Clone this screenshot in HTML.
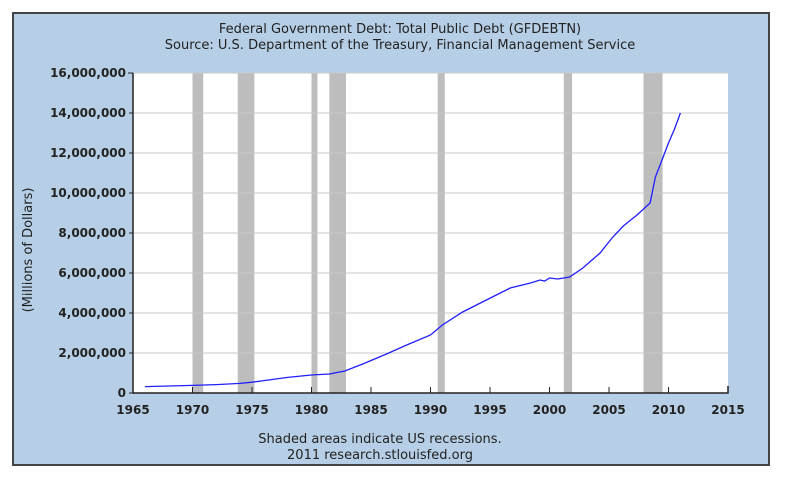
<!DOCTYPE html>
<html><head><meta charset="utf-8"><style>
body{margin:0;background:#fff;width:800px;height:489px;overflow:hidden}
svg text{font-family:"DejaVu Sans","Liberation Sans",sans-serif;fill:#222}
</style></head><body>
<svg id="c" width="800" height="489">
<rect x="13" y="13" width="756" height="452" fill="#b7cfe6" stroke="#444" stroke-width="2"/>
<text x="400" y="33" font-size="13" text-anchor="middle">Federal Government Debt: Total Public Debt (GFDEBTN)</text>
<text x="400" y="49" font-size="13" text-anchor="middle">Source: U.S. Department of the Treasury, Financial Management Service</text>
<rect x="133" y="73" width="595" height="320" fill="#fff"/>
<g id="rec"></g><g id="grid"></g><g id="ax"></g>
<path id="line" fill="none" stroke="#1f1fff" stroke-width="1.3"/>
<text transform="translate(32,250) rotate(-90)" font-size="13" text-anchor="middle">(Millions of Dollars)</text>
<text x="380" y="443" font-size="13" text-anchor="middle">Shaded areas indicate US recessions.</text>
<text x="380" y="459" font-size="13" text-anchor="middle">2011 research.stlouisfed.org</text>
</svg>
<script>
const years=[1966,1968,1970,1972,1974,1975,1976,1978,1980,1981.5,1982.8,1984.3,1986.3,1988,1990,1991,1992.7,1994.7,1996.7,1998.4,1999.2,1999.6,2000,2000.7,2001.7,2002.8,2004.25,2005.25,2006.2,2007.35,2008.45,2008.9,2009.45,2010,2010.5,2011];
const debt=[320000,350000,380000,420000,480000,540000,620000,780000,900000,950000,1100000,1450000,1950000,2400000,2900000,3400000,4050000,4650000,5250000,5500000,5650000,5600000,5750000,5700000,5800000,6250000,7000000,7750000,8350000,8900000,9500000,10800000,11650000,12500000,13200000,14000000];
const recStart=[1970.0,1973.8,1980.0,1981.5,1990.6,2001.2,2007.9];
const recEnd=[1970.9,1975.2,1980.5,1982.9,1991.2,2001.9,2009.5];
const yTicks=[0,2000000,4000000,6000000,8000000,10000000,12000000,14000000,16000000];
const xTicks=[1965,1970,1975,1980,1985,1990,1995,2000,2005,2010,2015];
const X=v=>133+(v-1965)*595/50, Y=v=>393-v*320/16000000;
const NS="http://www.w3.org/2000/svg";
function mk(p,t,a){const e=document.createElementNS(NS,t);for(const k in a)e.setAttribute(k,a[k]);document.getElementById(p).appendChild(e);return e;}
recStart.forEach((s,i)=>{const e=mk('rec','rect',{x:X(s),y:73,width:X(recEnd[i])-X(s),height:320,fill:'#bdbdbd'});

});
yTicks.forEach(v=>{const y=Y(v);
if(v>0){const g=mk('grid','line',{x1:133,x2:728,y1:y,y2:y,stroke:'#c8c8c8'});

}
mk('ax','line',{x1:129,x2:133,y1:y,y2:y,stroke:'#222'});
const t=mk('ax','text',{x:126,y:y+4,'font-size':12,'font-weight':'bold','text-anchor':'end'});t.textContent=v.toLocaleString('en-US');

});
xTicks.forEach(v=>{const x=X(v);mk('ax','line',{x1:x,x2:x,y1:387,y2:393,stroke:'#222'});
const t=mk('ax','text',{x:x,y:414,'font-size':12,'font-weight':'bold','text-anchor':'middle'});t.textContent=v;

});
mk('ax','path',{d:'M133 73V393H728V386',fill:'none',stroke:'#222','stroke-width':1.5});
mk('ax','line',{x1:128,x2:133,y1:73,y2:73,stroke:'#222'});
document.getElementById('line').setAttribute('d',years.map((y,i)=>(i?'L':'M')+X(y).toFixed(1)+' '+Y(debt[i]).toFixed(1)).join(''));
</script>
</body></html>
